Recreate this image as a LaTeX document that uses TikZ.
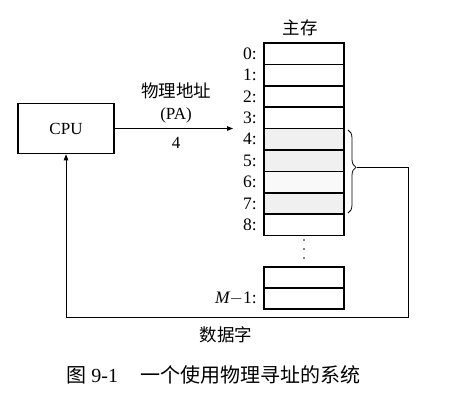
\documentclass[tikz,border=0pt]{standalone}
\usepackage{fontspec}
\setmainfont{Liberation Serif}
\newfontfamily\cjk{Noto Sans CJK SC}
\usetikzlibrary{arrows.meta,decorations.pathreplacing}

\begin{document}
\begin{tikzpicture}[x=1pt,y=-1pt,line width=0.8pt,
  cell/.style={draw,line width=1.6pt,minimum width=80pt,minimum height=21.4pt,inner sep=0pt},
  addr/.style={left,inner sep=0pt,xshift=-6pt,font=\fontsize{17.5}{19}\selectfont},
  lbl/.style={font=\fontsize{17}{19}\selectfont},
  cjklbl/.style={font=\fontsize{17.5}{20}\cjk},
  tip/.style={-{Triangle[length=6pt,width=4.5pt]}}]
\useasboundingbox (0,0) rectangle (453,401);
% CPU
\node[draw,line width=1.6pt,minimum width=96pt,minimum height=50pt,lbl] (cpu) at (66,128.5) {CPU};
% main memory
\node[cjklbl] (mem) at (300,28) {主存};
\foreach \i/\f in {0/white,1/white,2/white,3/white,4/gray!12,5/gray!12,6/gray!5,7/gray!12,8/white}
  \node[cell,fill=\f] (m\i) at (304,{53.7+21.4*\i}) {};
\foreach \i in {0,...,8}
  \node[addr] (a\i) at (m\i.west) {\i:};
\foreach \y in {240,249,258}
  \fill (304,\y) circle (0.9pt);
\node[cell,minimum height=21pt] (mx) at (304,277.5) {};
\node[cell,minimum height=21pt] (ml) at (304,298.5) {};
\node[addr] (al) at (ml.west) {{\itshape M}$-$1:};
% address
\coordinate (pa) at (233,128.5);
\draw[tip] (cpu.east) -- (pa);
\node[cjklbl] (pa1) at (176,91) {物理地址};
\node[lbl] (pa2) at (176,115) {(PA)};
\node[lbl] (pa3) at (176,143) {4};
% data word
\draw[decorate,decoration={brace,amplitude=8pt,aspect=0.45}] (348,130) -- (348,213);
\coordinate (br) at (357,167);
\coordinate (rt) at (408,167);
\coordinate (bt) at (66,317);
\draw[tip] (br) -- (rt) |- (bt) -- (cpu.south);
\node[cjklbl] (dw) at (226,335) {数据字};
\node[anchor=west,inner sep=0pt,font=\fontsize{20}{22}\selectfont] (cap) at (66,375) {{\cjk 图} 9-1\hspace{1.1em}{\cjk 一个使用物理寻址的系统}};
\end{tikzpicture}
\end{document}
